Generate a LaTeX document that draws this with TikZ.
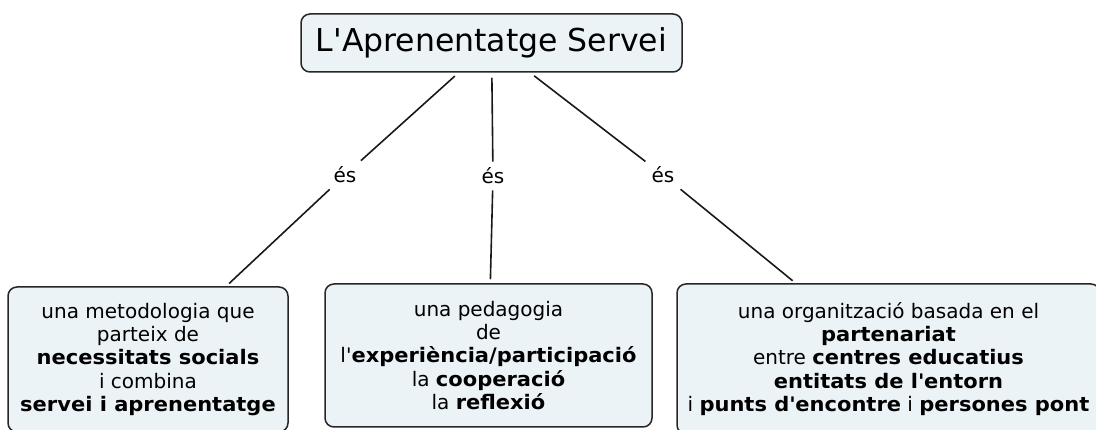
\documentclass[tikz,border=0pt]{standalone}
\usepackage{fontspec}
\setmainfont{DejaVu Sans}[BoldFeatures={FakeStretch=1.05}]
\definecolor{conceptfill}{HTML}{EBF3F6}
\newcommand{\apos}{\textquotesingle}

\begin{document}
\begin{tikzpicture}[x=1pt,y=-1pt]

\tikzstyle{concept} = [rectangle, draw=black!85, fill=conceptfill, line width=1.5pt, rounded corners=9pt, align=center, inner sep=0pt, font=\fontsize{20}{23.3}\selectfont]
\tikzstyle{link} = [inner sep=6pt, font=\fontsize{20}{23}\selectfont]
\tikzstyle{line} = [line width=1.6pt, black!90]

\useasboundingbox (0,0) rectangle (1096,430);

\node (titol) [concept, minimum width=381pt, minimum height=58pt, font=\fontsize{31.5}{36}\selectfont] at (491.5,43) {L\apos Aprenentatge Servei};

\node (es1) [link] at (345,175) {és};
\node (es2) [link] at (493,176) {és};
\node (es3) [link] at (663,175) {és};

\node (metodologia) [concept, minimum width=280pt, minimum height=145pt] at (148,359.5) {una metodologia que\\ parteix de\\ \textbf{necessitats socials}\\ i combina\\ \textbf{servei i aprenentatge}};

\node (pedagogia) [concept, minimum width=327pt, minimum height=143pt] at (488.5,355.5) {una pedagogia\\ de\\ l\apos\textbf{experiència/participació}\\ la \textbf{cooperació}\\ la \textbf{reflexió}};

\node (organitzacio) [concept, minimum width=423pt, minimum height=150pt] at (888.5,359) {una organització basada en el\\ \textbf{partenariat}\\ entre \textbf{centres educatius}\\ \textbf{entitats de l\apos entorn}\\ i \textbf{punts d\apos encontre} i \textbf{persones pont}};

\draw [line, shorten <=5pt] (titol) -- (es1);
\draw [line, shorten >=4pt] (es1) -- (metodologia);
\draw [line, shorten <=5pt] (titol) -- (es2);
\draw [line, shorten >=4pt] (es2) -- (pedagogia);
\draw [line, shorten <=5pt] (titol) -- (es3);
\draw [line, shorten >=4pt] (es3) -- (organitzacio);

\end{tikzpicture}
\end{document}
